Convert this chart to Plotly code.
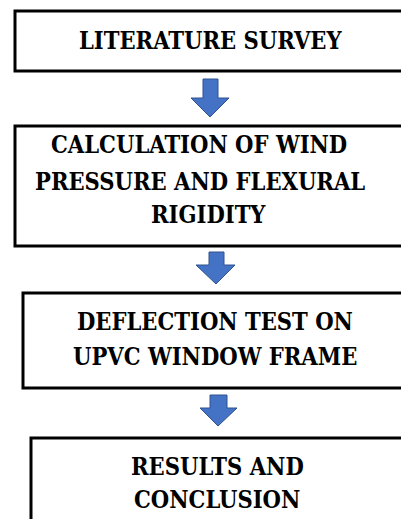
import plotly.graph_objects as go

# Flowchart content
steps = [
    ["LITERATURE SURVEY"],
    ["CALCULATION OF WIND", "PRESSURE AND FLEXURAL", "RIGIDITY"],
    ["DEFLECTION TEST ON", "UPVC WINDOW FRAME"],
    ["RESULTS AND", "CONCLUSION"],
]

# Layout geometry (pixel space of the 401x519 page)
box_left = [15, 15, 23, 31]
box_top = [11, 126, 293, 438]
box_bottom = [71, 246, 388, 540]
line_x = [[210], [199, 200, 208], [215, 215], [217, 217]]
line_y = [[41], [145, 182, 215], [322, 357], [467, 500]]

# arrows: shaft left, shaft right, top, head start, head left, head right, tip x, tip y
arrows = [
    (203, 218, 79, 98, 191, 229, 210, 117),
    (209, 224, 252, 265, 196, 235, 216, 284),
    (210, 227, 395, 408, 200, 237, 218, 426),
]

W, H = 401, 519
fig = go.Figure()
fig.add_trace(go.Scatter(x=[0, W], y=[0, H], mode="markers",
                         marker=dict(opacity=0), hoverinfo="skip", showlegend=False))

shapes = []
for l, t, b in zip(box_left, box_top, box_bottom):
    shapes.append(dict(type="rect", x0=l, x1=W + 20, y0=t, y1=b,
                       line=dict(color="black", width=3), fillcolor="white", layer="below"))
for sl, sr, top, hs, hl, hr, tx, ty in arrows:
    path = (f"M {sl} {top} L {sr} {top} L {sr} {hs} L {hr} {hs} L {tx} {ty} "
            f"L {hl} {hs} L {sl} {hs} Z")
    shapes.append(dict(type="path", path=path, fillcolor="#4472C4",
                       line=dict(color="#2F528F", width=1)))

annotations = []
for lines, xs, ys in zip(steps, line_x, line_y):
    for txt, x, y in zip(lines, xs, ys):
        annotations.append(dict(x=x, y=y, xref="x", yref="y", text=f"<b>{txt}</b>",
                                showarrow=False, xanchor="center", yanchor="middle",
                                font=dict(family="DejaVu Serif Condensed, Liberation Serif",
                                          size=23.5, color="black")))

fig.update_layout(
    width=W, height=H, margin=dict(l=0, r=0, t=0, b=0),
    paper_bgcolor="white", plot_bgcolor="white",
    xaxis=dict(range=[0, W], visible=False, fixedrange=True),
    yaxis=dict(range=[H, 0], visible=False, fixedrange=True),
    shapes=shapes, annotations=annotations, showlegend=False,
)
fig.write_html(
    "out.html",
    config={"displayModeBar": False},
    post_script="document.body.style.margin='0';document.body.style.overflow='hidden';",
)
